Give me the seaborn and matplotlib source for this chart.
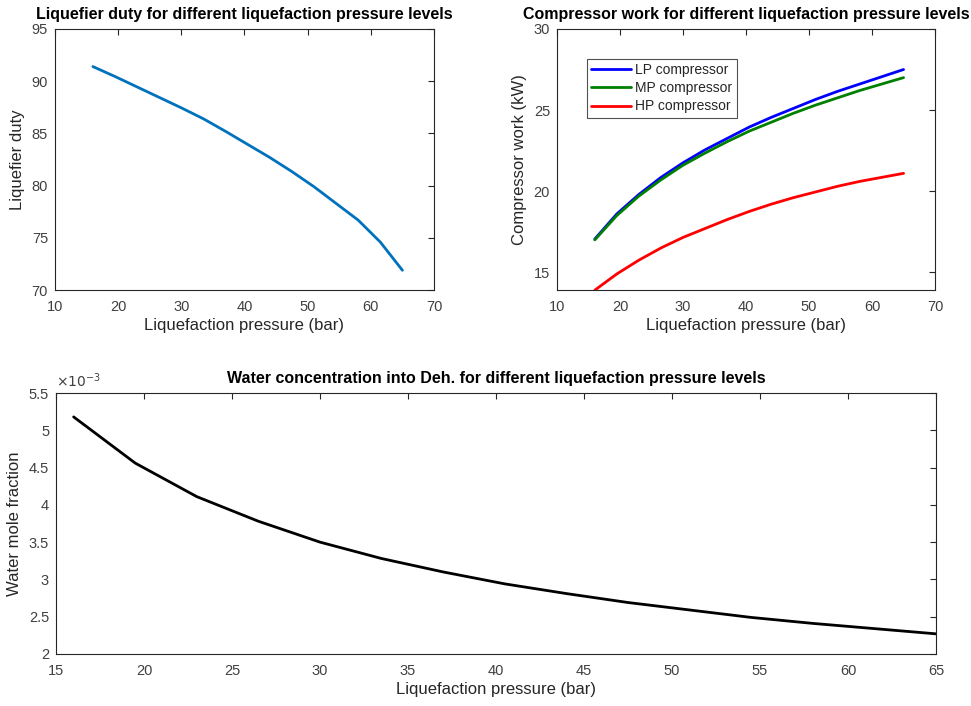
import numpy as np
import pandas as pd
import seaborn as sns
import matplotlib.pyplot as plt
from matplotlib.ticker import FuncFormatter

# Liquefaction pressure levels (bar)
pressure = [16, 19.5, 23, 26.5, 30, 33.5, 37, 40.5, 44, 47.5, 51, 54.5, 58, 61.5, 65]

# Liquefier duty
duty = [91.4, 90.45, 89.45, 88.45, 87.45, 86.4, 85.2, 83.95, 82.7, 81.35,
        79.9, 78.3, 76.7, 74.6, 71.9]

# Compressor work (kW)
lp_work = [17.05, 18.6, 19.8, 20.85, 21.75, 22.55, 23.25, 23.95, 24.55, 25.1,
           25.65, 26.15, 26.6, 27.05, 27.5]
mp_work = [17.0, 18.5, 19.7, 20.7, 21.6, 22.35, 23.05, 23.7, 24.25, 24.8,
           25.3, 25.75, 26.2, 26.6, 27.0]
hp_work = [13.9, 14.9, 15.75, 16.5, 17.15, 17.7, 18.25, 18.75, 19.2, 19.6,
           19.95, 20.3, 20.6, 20.85, 21.1]

# Water mole fraction into dehydration (x 10^-3)
water_e3 = [5.18, 4.56, 4.11, 3.78, 3.50, 3.28, 3.10, 2.94, 2.81, 2.69,
            2.59, 2.49, 2.41, 2.34, 2.27]

sns.set_theme(style="white")
plt.rcParams['font.family'] = ['Liberation Sans', 'DejaVu Sans']
plt.rcParams.update({
    "axes.edgecolor": "#262626",
    "axes.linewidth": 0.8,
    "xtick.color": "#262626",
    "ytick.color": "#262626",
    "xtick.labelcolor": "#404040",
    "ytick.labelcolor": "#404040",
    "xtick.direction": "in",
    "ytick.direction": "in",
    "xtick.top": True,
    "ytick.right": True,
    "xtick.major.size": 4,
    "ytick.major.size": 4,
    "xtick.major.width": 0.8,
    "ytick.major.width": 0.8,
    "xtick.major.pad": 7,
    "ytick.major.pad": 5,
    "xtick.labelsize": 10.5,
    "ytick.labelsize": 10.5,
    "axes.labelsize": 12,
    "axes.labelcolor": "#262626",
})

fig = plt.figure(figsize=(9.71, 7.06), dpi=100)
ax1 = fig.add_axes([0.0566, 0.589, 0.3904, 0.370])
ax2 = fig.add_axes([0.5736, 0.589, 0.3894, 0.370])
ax3 = fig.add_axes([0.0577, 0.0737, 0.9063, 0.3696])

title_kw = dict(fontsize=11.5, fontweight="bold", color="black", pad=7)

# Liquefier duty
sns.lineplot(x=pressure, y=duty, ax=ax1, color="#0072BD", linewidth=2)
ax1.set_xlim(10, 70)
ax1.set_ylim(70, 95)
ax1.set_xticks(range(10, 71, 10))
ax1.set_yticks(range(70, 96, 5))
ax1.set_xlabel("Liquefaction pressure (bar)", labelpad=3)
ax1.set_ylabel("Liquefier duty", labelpad=5)
ax1.set_title("Liquefier duty for different liquefaction pressure levels", **title_kw)

# Compressor work
comp = pd.DataFrame({
    "pressure": pressure * 3,
    "work": lp_work + mp_work + hp_work,
    "unit": ["LP compressor"] * len(pressure) + ["MP compressor"] * len(pressure)
            + ["HP compressor"] * len(pressure),
})
sns.lineplot(data=comp, x="pressure", y="work", hue="unit", ax=ax2, linewidth=2,
             palette={"LP compressor": "#0000FF", "MP compressor": "#008000",
                      "HP compressor": "#FF0000"})
ax2.set_xlim(10, 70)
ax2.set_ylim(13.9, 30)
ax2.set_xticks(range(10, 71, 10))
ax2.set_yticks([15, 20, 25, 30])
ax2.set_xlabel("Liquefaction pressure (bar)", labelpad=3)
ax2.set_ylabel("Compressor work (kW)", labelpad=5)
ax2.set_title("Compressor work for different liquefaction pressure levels", **title_kw)
leg = ax2.legend(loc="upper left", bbox_to_anchor=(0.079, 0.885), borderaxespad=0,
                 frameon=True, fancybox=False, fontsize=10, handlelength=2.9,
                 handletextpad=0.3, labelspacing=0.3, borderpad=0.3)
leg.get_frame().set_edgecolor("#262626")
leg.get_frame().set_linewidth(0.8)

# Water concentration
sns.lineplot(x=pressure, y=water_e3, ax=ax3, color="black", linewidth=2)
ax3.set_xlim(15, 65)
ax3.set_ylim(2, 5.5)
ax3.set_xticks(range(15, 66, 5))
ax3.set_yticks(np.arange(2, 5.51, 0.5))
ax3.yaxis.set_major_formatter(FuncFormatter(lambda v, p: f"{v:g}"))
ax3.set_xlabel("Liquefaction pressure (bar)", labelpad=3)
ax3.set_ylabel("Water mole fraction", labelpad=5)
ax3.set_title("Water concentration into Deh. for different liquefaction pressure levels",
              **title_kw)
ax3.text(0.0, 1.01, r"$\times10^{-3}$", transform=ax3.transAxes, fontsize=10,
         color="#404040", ha="left", va="bottom")

for ax in (ax1, ax2, ax3):
    for s in ax.spines.values():
        s.set_visible(True)

fig.savefig("out.png", dpi=100)
